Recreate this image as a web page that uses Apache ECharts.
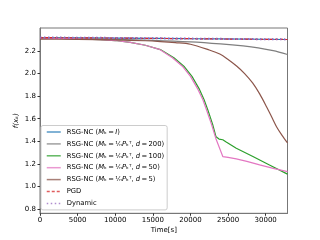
<!DOCTYPE html>
<html><head><meta charset="utf-8">
<script src="https://cdn.jsdelivr.net/npm/echarts@6/dist/echarts.min.js"></script>
<style>html,body{margin:0;padding:0;background:#fff}#c{width:320px;height:240px}</style>
</head><body><div id="c"></div>
<script>
const xTicks = [0, 5000, 10000, 15000, 20000, 25000, 30000];
const yTicks = [0.8, 1.0, 1.2, 1.4, 1.6, 1.8, 2.0, 2.2];

const identT = [0, 10000, 20000, 32900];
const identY = [2.319, 2.315, 2.309, 2.302];

const d200T = [0, 5000, 10000, 15000, 20000, 24000, 27000, 29000, 31000, 32900];
const d200Y = [2.314, 2.310, 2.304, 2.295, 2.281, 2.263, 2.245, 2.228, 2.203, 2.169];

const d100T = [0, 4000, 8000, 10000, 12000, 14000, 16000, 17800, 19200, 20200, 21200, 21800, 22300, 22950, 23400, 23800, 24300, 24700, 26090, 28300, 30500, 32900];
const d100Y = [2.313, 2.310, 2.301, 2.293, 2.276, 2.251, 2.213, 2.140, 2.060, 1.975, 1.860, 1.770, 1.680, 1.550, 1.440, 1.420, 1.414, 1.397, 1.339, 1.265, 1.190, 1.109];

const d50T = [0, 4000, 8000, 10000, 12000, 14000, 15870, 17600, 19000, 20000, 21000, 21640, 22130, 22800, 23400, 24300, 25000, 26090, 27500, 29200, 31000, 32900];
const d50Y = [2.313, 2.310, 2.301, 2.293, 2.276, 2.251, 2.215, 2.140, 2.060, 1.975, 1.860, 1.770, 1.680, 1.550, 1.420, 1.265, 1.257, 1.244, 1.222, 1.191, 1.160, 1.132];

const d5T = [0, 5000, 10000, 14000, 16000, 18000, 20000, 22500, 23900, 25000, 26130, 27200, 28260, 29200, 30130, 30800, 31460, 32200, 32900];
const d5Y = [2.306, 2.303, 2.298, 2.291, 2.284, 2.274, 2.260, 2.209, 2.173, 2.125, 2.067, 2.000, 1.917, 1.820, 1.704, 1.615, 1.527, 1.450, 1.386];

const pgdT = [0, 10000, 20000, 32900];
const pgdY = [2.319, 2.315, 2.309, 2.302];

const dynT = [0, 10000, 20000, 32900];
const dynY = [2.320, 2.316, 2.310, 2.303];

const names = ['ident', 'd200', 'd100', 'd50', 'd5', 'pgd', 'dyn'];
const labels = {
  ident: '{n|RSG-NC (}{i|M}{n|ₖ\u2009=\u2009}{i|I}{n|)}',
  d200: '{n|RSG-NC (}{i|M}{n|ₖ\u2009=\u2009¹⁄ₙ}{i|P}{n|ₖᵀ, }{i|d}{n|\u2009=\u2009200)}',
  d100: '{n|RSG-NC (}{i|M}{n|ₖ\u2009=\u2009¹⁄ₙ}{i|P}{n|ₖᵀ, }{i|d}{n|\u2009=\u2009100)}',
  d50: '{n|RSG-NC (}{i|M}{n|ₖ\u2009=\u2009¹⁄ₙ}{i|P}{n|ₖᵀ, }{i|d}{n|\u2009=\u200950)}',
  d5: '{n|RSG-NC (}{i|M}{n|ₖ\u2009=\u2009¹⁄ₙ}{i|P}{n|ₖᵀ, }{i|d}{n|\u2009=\u20095)}',
  pgd: '{n|PGD}',
  dyn: '{n|Dynamic}'
};
const pair = (t, y) => t.map((v, i) => [v, y[i]]);

function mk(name, t, y, color, type, width, smooth) {
  return {
    name: name, type: 'line', data: pair(t, y), showSymbol: false, symbol: 'none',
    smooth: smooth || false, animation: false,
    lineStyle: {color: color, width: width, type: type},
    itemStyle: {color: color}
  };
}

const series = [
  mk('ident', identT, identY, '#1f77b4', 'solid', 1.2),
  mk('d200', d200T, d200Y, '#7f7f7f', 'solid', 1.2, 0.3),
  mk('d100', d100T, d100Y, '#2ca02c', 'solid', 1.2),
  mk('d50', d50T, d50Y, '#e377c2', 'solid', 1.2),
  mk('d5', d5T, d5Y, '#8c564b', 'solid', 1.2, 0.3),
  mk('pgd', pgdT, pgdY, '#d62728', [3, 2], 1.2),
  mk('dyn', dynT, dynY, '#9467bd', [1.5, 2.5], 2)
];

const font = 'DejaVu Sans';
const chart = echarts.init(document.getElementById('c'), null, {renderer: 'canvas'});
chart.setOption({
  animation: false,
  backgroundColor: '#fff',
  grid: {left: 40, right: 32.5, top: 28, bottom: 26.7, show: true, borderColor: '#777', borderWidth: 1, backgroundColor: 'transparent'},
  xAxis: {
    type: 'value', min: 0, max: 32900,
    name: 'Time[s]', nameLocation: 'middle', nameGap: 13, nameMoveOverlap: false,
    nameTextStyle: {fontFamily: font, fontSize: 7, color: '#000'},
    axisLine: {show: true, lineStyle: {color: '#777'}},
    axisTick: {show: true, length: 2.5, customValues: xTicks, lineStyle: {color: '#333'}},
    axisLabel: {customValues: xTicks, fontFamily: font, fontSize: 7, color: '#000', margin: 3, formatter: v => String(v)},
    splitLine: {show: false}
  },
  yAxis: {
    type: 'value', min: 0.762, max: 2.404,
    name: 'f(xₖ)', nameLocation: 'middle', nameGap: 20, nameRotate: 90, nameMoveOverlap: false,
    nameTextStyle: {fontFamily: font, fontSize: 7, color: '#000', fontStyle: 'italic'},
    axisLine: {show: true, lineStyle: {color: '#777'}},
    axisTick: {show: true, length: 2.5, customValues: yTicks, lineStyle: {color: '#333'}},
    axisLabel: {customValues: yTicks, fontFamily: font, fontSize: 7, color: '#000', margin: 4, formatter: v => v.toFixed(1)},
    splitLine: {show: false}
  },
  legend: {
    show: true, orient: 'vertical', left: 41, top: 125.5,
    data: names,
    itemWidth: 14, itemHeight: 6, itemGap: 4.9,
    padding: [3, 3, 3, 5],
    itemStyle: {opacity: 0},
    lineStyle: {width: 1.5, opacity: 0.75},
    backgroundColor: 'rgba(255,255,255,0.85)', borderColor: '#ccc', borderWidth: 1, borderRadius: 2,
    formatter: n => labels[n],
    textStyle: {
      fontFamily: font, fontSize: 6.8, color: '#000', padding: [0, 0, 0, 1],
      rich: {
        n: {fontFamily: font, fontSize: 6.8, color: '#000'},
        i: {fontFamily: font, fontSize: 6.8, color: '#000', fontStyle: 'italic'}
      }
    }
  },
  series: series
});
</script>
</body></html>
